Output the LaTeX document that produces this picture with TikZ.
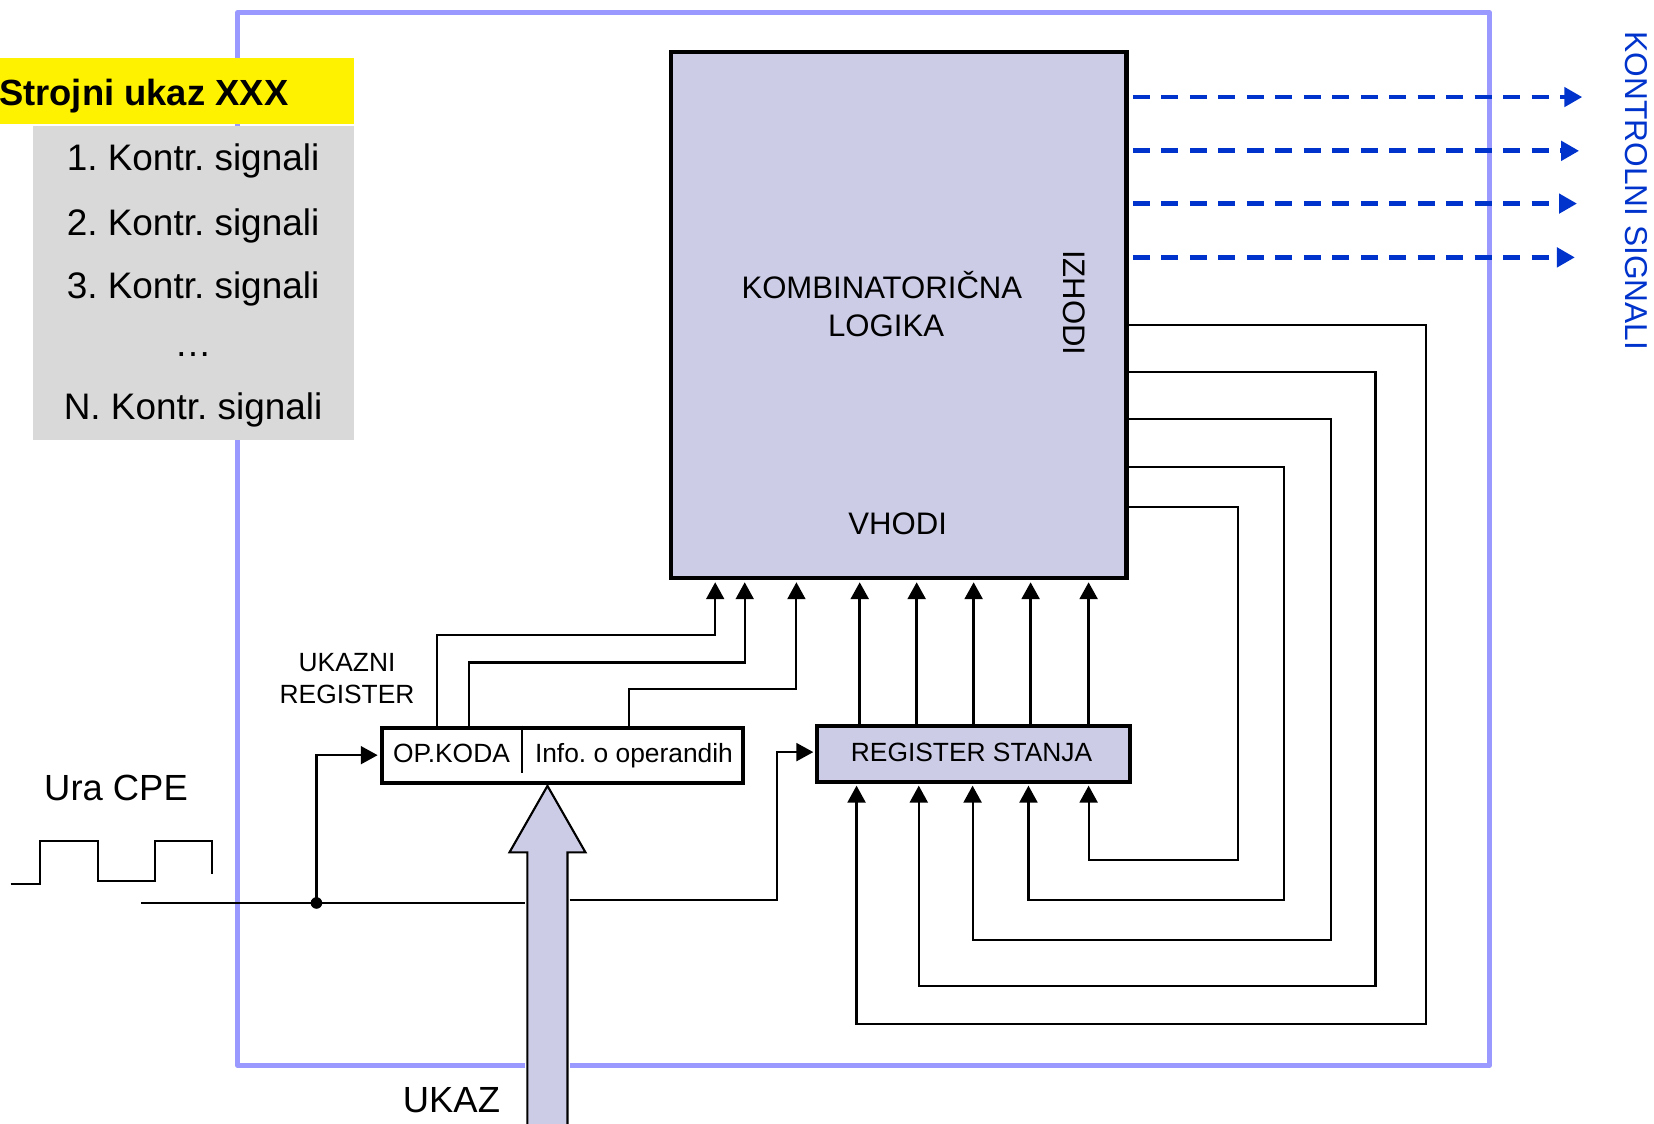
\documentclass[tikz,border=0pt]{standalone}
\usepackage{fontspec}
\setmainfont{Liberation Sans}
\usetikzlibrary{arrows.meta}
\definecolor{frameblue}{RGB}{153,153,255}
\definecolor{lav}{RGB}{204,204,230}
\definecolor{sigblue}{RGB}{0,51,204}
\definecolor{lgray}{RGB}{217,217,217}
\newcommand\fz[1]{\fontsize{#1}{#1}\selectfont}
\frenchspacing
\begin{document}
\begin{tikzpicture}[x=1pt,y=-1pt,
  box/.style={draw=black, line width=4pt, fill=lav, inner sep=0pt, anchor=north west},
  arr/.style={line width=2.5pt, -{Triangle[length=16pt 0 0,width=17pt 0]}, shorten >=2pt},
  fb/.style={line width=2pt, -{Triangle[length=16pt 0 0,width=17pt 0]}, shorten >=2pt},
  wire/.style={line width=2pt},
  sig/.style={draw=sigblue, line width=4.5pt, dash pattern=on 16pt off 11pt, -{Triangle[length=17pt 0 0,width=18pt 0]}, shorten <=4pt},
  lbl/.style={anchor=base, inner sep=0pt},
]
\useasboundingbox (0,0) rectangle (1568,1065);
% outer frame
\draw[frameblue, line width=4.5pt, line join=round] (498,1010) -- (225,1010) -- (225,12) -- (1412,12) -- (1412,1010) -- (540,1010);

% title boxes
\node[fill=yellow, minimum width=335pt, minimum height=62pt, inner sep=0pt, anchor=north west] (title) at (0,55) {};
\node[anchor=base west, inner sep=0pt, font=\fz{34.5}\bfseries] (titletext) at (-1,100) {Strojni ukaz XXX};
\node[fill=lgray, minimum width=304pt, minimum height=298pt, inner sep=0pt, anchor=north west] (list) at (31,119) {};
\node[lbl, font=\fz{35}] (l1) at (183,162) {1. Kontr. signali};
\node[lbl, font=\fz{35}] (l2) at (183,223) {2. Kontr. signali};
\node[lbl, font=\fz{35}] (l3) at (183,283) {3. Kontr. signali};
\node[lbl, font=\fz{35}] (ldots) at (183,338) {…};
\node[lbl, font=\fz{35}] (lN) at (183,398) {N. Kontr. signali};

% combinational logic
\node[box, minimum width=432pt, minimum height=499pt] (kl) at (634,47) {};
\node[lbl, font=\fz{29.5}] (klt1) at (836,283) {KOMBINATORIČNA};
\node[lbl, font=\fz{29.5}] (klt2) at (840,319) {LOGIKA};
\node[lbl, font=\fz{29.5}] (vhodi) at (851,507) {VHODI};
\node[inner sep=0pt, rotate=-90, font=\fz{29.5}] (izhodi) at (1018,287) {IZHODI};

% control signals
\coordinate (s1) at (1500,92);
\coordinate (s2) at (1497,143);
\coordinate (s3) at (1495,193);
\coordinate (s4) at (1493,244);
\draw[sig] (kl.east |- s1) -- (s1);
\draw[sig] (kl.east |- s2) -- (s2);
\draw[sig] (kl.east |- s3) -- (s3);
\draw[sig] (kl.east |- s4) -- (s4);
\node[inner sep=0pt, rotate=-90, font=\fz{30}, text=sigblue] (ks) at (1551,181) {KONTROLNI SIGNALI};

% state register
\node[box, line width=3.8pt, minimum width=296pt, minimum height=53pt] (rs) at (773,686) {};
\node[lbl, font=\fz{25}] (rst) at (921,722) {REGISTER STANJA};

% feedback from outputs to state register
\draw[fb] (kl.east |- 0,308) -| (1352,971) -| (rs.south -| 812,0);
\draw[fb] (kl.east |- 0,353) -| (1304,935) -| (rs.south -| 871,0);
\draw[fb] (kl.east |- 0,397) -| (1262,891) -| (rs.south -| 922,0);
\draw[fb] (kl.east |- 0,443) -| (1217,853) -| (rs.south -| 975,0);
\draw[fb] (kl.east |- 0,481) -| (1174,815) -| (rs.south -| 1032,0);

% state register to logic inputs
\draw[arr] (815,0 |- rs.north) -- (815,0 |- kl.south);
\draw[arr] (869,0 |- rs.north) -- (869,0 |- kl.south);
\draw[arr] (923,0 |- rs.north) -- (923,0 |- kl.south);
\draw[arr] (977,0 |- rs.north) -- (977,0 |- kl.south);
\draw[arr] (1032,0 |- rs.north) -- (1032,0 |- kl.south);

% instruction register
\node[draw=black, fill=white, line width=3.8pt, inner sep=0pt, anchor=north west, minimum width=342pt, minimum height=52pt] (ir) at (360,688) {};
\draw[line width=2.5pt] (495,0 |- ir.north) -- (495,733);
\node[lbl, font=\fz{25}] (opk) at (428,723) {OP.KODA};
\node[lbl, font=\fz{25}] (info) at (601,723) {Info. o operandih};
\node[lbl, font=\fz{25}] (uk1) at (329,637) {UKAZNI};
\node[lbl, font=\fz{25}] (uk2) at (329,667) {REGISTER};

% instruction register to logic inputs
\draw[arr, line width=2pt] (414,0 |- ir.north) |- (678,602) -- (678,0 |- kl.south);
\draw[arr, line width=2pt] (445,0 |- ir.north) |- (706,628) -- (706,0 |- kl.south);
\draw[arr, line width=2pt] (596,0 |- ir.north) |- (755,653) -- (755,0 |- kl.south);

% clock
\node[lbl, font=\fz{34.5}] (ura) at (110,759) {Ura CPE};
\draw[wire] (10,838) -- (38,838) -- (38,797) -- (93,797) -- (93,835) -- (147,835) -- (147,797) -- (201,797) -- (201,829);
\coordinate (clkin) at (134,856);
\node[circle, fill=black, inner sep=0pt, minimum size=11pt] (dot) at (300,856) {};
\coordinate (clkL) at (498,856);
\coordinate (clkR) at (540,853);
\draw[wire] (clkin) -- (dot.center) -- (clkL);
\draw[fb] (dot.center) |- (ir.west);
\draw[fb] (clkR) -| (737,713) -- (rs.west |- 0,713);

% instruction input arrow
\draw[line width=2pt, fill=lav, line join=miter] (500,1070) -- (500,808) -- (483,808) -- (519,745) -- (555,808) -- (538,808) -- (538,1070);
\node[lbl, font=\fz{34.5}] (ukaz) at (428,1055) {UKAZ};
\end{tikzpicture}
\end{document}
